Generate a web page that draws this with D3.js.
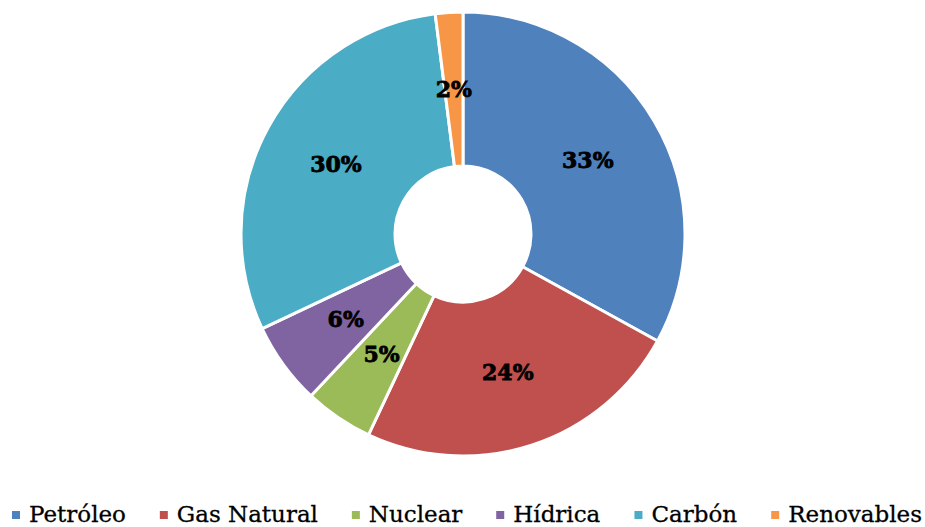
<!DOCTYPE html>
<html>
<head>
<meta charset="utf-8">
<script src="https://cdn.jsdelivr.net/npm/d3@7"></script>
<style>
  html, body { margin: 0; padding: 0; background: #fff; }
  svg { display: block; }
  .legend-text { font-family: "DejaVu Serif", serif; }
  .pct { font-family: "DejaVu Serif", serif; font-weight: 900; }
</style>
</head>
<body>
<svg id="chart" width="925" height="527"></svg>
<script>
// Energy sources share
const categories = ["Petróleo", "Gas Natural", "Nuclear", "Hídrica", "Carbón", "Renovables"];
const shares = [33, 24, 5, 6, 30, 2];
const colors = ["#4F81BD", "#C0504D", "#9BBB59", "#8064A2", "#4BACC6", "#F79646"];

const width = 925, height = 527;
const cx = 463, cy = 234;
const outerR = 222, innerR = 68;

const svg = d3.select("#chart");
const data = categories.map((c, i) => ({ name: c, value: shares[i], color: colors[i] }));

const pie = d3.pie().value(d => d.value).sort(null);
const arc = d3.arc().innerRadius(innerR).outerRadius(outerR);

const g = svg.append("g").attr("transform", `translate(${cx},${cy})`);
const arcs = pie(data);

g.selectAll("path.slice")
  .data(arcs)
  .join("path")
  .attr("class", "slice")
  .attr("d", arc)
  .attr("fill", d => d.data.color)
  .attr("stroke", "#fff")
  .attr("stroke-width", 3)
  .attr("stroke-linejoin", "round");

g.selectAll("text.pct")
  .data(arcs)
  .join("text")
  .attr("class", "pct")
  .attr("transform", d => `translate(${arc.centroid(d)})`)
  .attr("text-anchor", "middle")
  .attr("dy", "0.36em")
  .attr("font-size", 22)
  .attr("fill", "#000")
  .attr("stroke", "#000")
  .attr("stroke-width", 0.8)
  .text(d => d.data.value + "%");

// Legend along the bottom
const legend = svg.append("g").attr("transform", "translate(0,514)");
const items = legend.selectAll("g.item")
  .data(data)
  .join("g")
  .attr("class", "item");

items.append("rect")
  .attr("width", 8).attr("height", 8)
  .attr("y", -3)
  .attr("fill", d => d.color);

items.append("text")
  .attr("class", "legend-text")
  .attr("x", 17)
  .attr("dy", "0.35em")
  .attr("font-size", 23)
  .attr("fill", "#000")
  .attr("stroke", "#000")
  .attr("stroke-width", 0.3)
  .text(d => d.name);

// lay the legend items out in one row, spread between the left and right margins
const widths = [];
items.each(function () { widths.push(this.getBBox().width); });
const left = 12, right = 922;
const total = d3.sum(widths);
const gap = (right - left - total) / (widths.length - 1);
let x = left;
items.each(function (d, i) {
  d3.select(this).attr("transform", `translate(${x},0)`);
  x += widths[i] + gap;
});
</script>
</body>
</html>
